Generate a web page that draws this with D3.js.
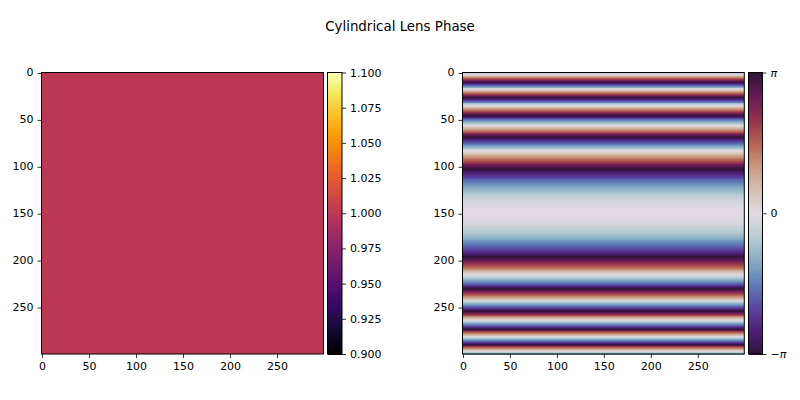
<!DOCTYPE html>
<html>
<head>
<meta charset="utf-8">
<script src="https://cdn.jsdelivr.net/npm/d3@7"></script>
<style>
html,body{margin:0;padding:0;background:#fff}
svg{display:block}
text{font-family:"DejaVu Sans",sans-serif;fill:#000}
</style>
</head>
<body>
<svg id="fig" width="800" height="400"></svg>
<script>
const titleText = "Cylindrical Lens Phase";
const amplitude = 1.0;
const ampRange = [0.9, 1.1];
const ampTicks = [0.9, 0.925, 0.95, 0.975, 1.0, 1.025, 1.05, 1.075, 1.1];
const pixelTicks = [0, 50, 100, 150, 200, 250];
const phaseTicks = [-1, 0, 1];

// Wrapped phase per image row, in units of pi. The lens is cylindrical, so columns repeat.
const phaseRowsUpper = [
 -.29,-.16,-.02,.12,.25,.39,.52,.65,.78,.91,
 -.96,-.83,-.71,-.58,-.46,-.33,-.21,-.08,.04,.16,
 .28,.40,.51,.63,.75,.86,.98,-.91,-.80,-.69,
 -.58,-.47,-.36,-.25,-.14,-.04,.07,.17,.28,.38,
 .48,.58,.68,.78,.88,.97,-.93,-.84,-.74,-.65,
 -.56,-.47,-.38,-.29,-.20,-.11,-.03,.06,.15,.23,
 .31,.39,.47,.55,.63,.71,.79,.87,.94,-.98,
 -.91,-.84,-.77,-.70,-.63,-.56,-.49,-.42,-.35,-.29,
 -.22,-.16,-.10,-.04,.02,.08,.14,.20,.26,.32,
 .37,.42,.48,.53,.58,.63,.68,.73,.78,.83,
 .87,.92,.96,-1,-.95,-.91,-.87,-.83,-.79,-.76,
 -.72,-.68,-.65,-.61,-.58,-.55,-.52,-.49,-.46,-.43,
 -.40,-.37,-.35,-.32,-.30,-.28,-.25,-.23,-.21,-.19,
 -.18,-.16,-.14,-.13,-.11,-.10,-.08,-.07,-.06,-.05,
 -.04,-.03,-.03,-.02,-.01,-.01,-.01,0,0,0
];
const phaseRowsLower = [
 0,0,0,-.01,-.01,-.01,-.02,-.03,-.03,-.04,
 -.05,-.06,-.07,-.08,-.10,-.11,-.13,-.14,-.16,-.18,
 -.19,-.21,-.23,-.25,-.28,-.30,-.32,-.35,-.37,-.40,
 -.43,-.46,-.49,-.52,-.55,-.58,-.61,-.65,-.68,-.72,
 -.76,-.79,-.83,-.87,-.91,-.95,-1,.96,.92,.87,
 .83,.78,.73,.68,.63,.58,.53,.48,.42,.37,
 .32,.26,.20,.14,.08,.02,-.04,-.10,-.16,-.22,
 -.29,-.35,-.42,-.49,-.56,-.63,-.70,-.77,-.84,-.91,
 -.98,.94,.87,.79,.71,.63,.55,.47,.39,.31,
 .23,.15,.06,-.03,-.11,-.20,-.29,-.38,-.47,-.56,
 -.65,-.74,-.84,-.93,.97,.88,.78,.68,.58,.48,
 .38,.28,.17,.07,-.04,-.14,-.25,-.36,-.47,-.58,
 -.69,-.80,-.91,.98,.86,.75,.63,.51,.40,.28,
 .16,.04,-.08,-.21,-.33,-.46,-.58,-.71,-.83,-.96,
 .91,.78,.65,.52,.39,.25,.12,-.02,-.16,-.29
];
const phaseRows = phaseRowsUpper.concat(phaseRowsLower);

// Cyclic dark-blue-light-red-dark colour ramp for phase, evenly spaced from -pi to pi.
const phaseStops = ["#2f1436","#4f1e78","#5a47a3","#5f7dba","#86adc5","#b8cdd3","#e2d9e2",
                    "#d5c0b2","#c9997f","#b5624f","#96304f","#661a55","#2f1436"];

const geom = {
  top: 72.5, bottom: 354,
  left:  {x0: 41.5,  x1: 323.5, cx0: 327.5, cx1: 342},
  right: {x0: 462.5, x1: 744.3, cx0: 748.5, cx1: 762.5}
};

const svg = d3.select("#fig");
const phaseColor = d3.scaleSequential(d3.piecewise(d3.interpolateRgb, phaseStops)).domain([-1, 1]);
// 256-level lookup: the midpoint of the range lands on level 128.
const ampColor = d3.scaleSequential(t => d3.interpolateInferno(Math.min(1, t * 256 / 255))).domain(ampRange);

svg.append("text").attr("x", 400).attr("y", 30.5).attr("text-anchor", "middle")
   .style("font-size", "13.4px").text(titleText);

function styleAxis(g) {
  g.select(".domain").remove();
  g.selectAll("line").attr("stroke", "#000").attr("stroke-width", 0.8);
  g.selectAll("text").style("font-size", "11px");
}

function drawFrame(g, x0, x1) {
  g.append("rect").attr("x", x0).attr("y", geom.top)
    .attr("width", x1 - x0).attr("height", geom.bottom - geom.top)
    .attr("fill", "none").attr("stroke", "#000").attr("stroke-width", 1);
}

function drawPixelAxes(box) {
  const x = d3.scaleLinear().domain([-0.5, 299.5]).range([box.x0, box.x1]);
  const y = d3.scaleLinear().domain([-0.5, 299.5]).range([geom.top, geom.bottom]);
  svg.append("g").attr("transform", `translate(0,${geom.bottom})`)
    .call(d3.axisBottom(x).tickValues(pixelTicks).tickSize(4).tickPadding(4)).call(styleAxis);
  svg.append("g").attr("transform", `translate(${box.x0},0)`)
    .call(d3.axisLeft(y).tickValues(pixelTicks).tickSize(4).tickPadding(4)).call(styleAxis)
    .selectAll("text").attr("dy", "0.25em");
}

function drawColorbar(box, domain, colorOf, ticks, format) {
  const y = d3.scaleLinear().domain(domain).range([geom.bottom, geom.top]);
  const val = d3.scaleLinear().domain([0, 256]).range(domain);
  const g = svg.append("g");
  g.selectAll("rect").data(d3.range(256)).join("rect")
    .attr("shape-rendering", "crispEdges")
    .attr("x", box.cx0).attr("width", box.cx1 - box.cx0)
    .attr("y", d => y(val(d + 1)))
    .attr("height", d => y(val(d)) - y(val(d + 1)) + 0.5)
    .attr("fill", d => colorOf(val(d + 0.5)));
  drawFrame(g, box.cx0, box.cx1);
  return svg.append("g").attr("transform", `translate(${box.cx1},0)`)
    .call(d3.axisRight(y).tickValues(ticks).tickFormat(format).tickSize(4).tickPadding(4))
    .call(styleAxis);
}

// Left panel: uniform amplitude.
const ampGroup = svg.append("g");
ampGroup.append("rect").datum(amplitude)
  .attr("x", geom.left.x0).attr("y", geom.top)
  .attr("width", geom.left.x1 - geom.left.x0).attr("height", geom.bottom - geom.top)
  .attr("fill", d => ampColor(d));
drawFrame(ampGroup, geom.left.x0, geom.left.x1);
drawPixelAxes(geom.left);

// Right panel: one strip per image row.
const rowY = d3.scaleLinear().domain([-0.5, 299.5]).range([geom.top, geom.bottom]);
const phaseGroup = svg.append("g");
phaseGroup.selectAll("rect").data(phaseRows).join("rect")
  .attr("shape-rendering", "crispEdges")
  .attr("x", geom.right.x0).attr("width", geom.right.x1 - geom.right.x0)
  .attr("y", (d, i) => rowY(i - 0.5))
  .attr("height", (d, i) => rowY(i + 0.5) - rowY(i - 0.5) + 0.5)
  .attr("fill", d => phaseColor(d));
drawFrame(phaseGroup, geom.right.x0, geom.right.x1);
drawPixelAxes(geom.right);

drawColorbar(geom.left, ampRange, ampColor, ampTicks, d3.format(".3f"));

// Phase colour bar labels: the pi symbol is set in italics, as in math type.
const phaseBar = drawColorbar(geom.right, [-1, 1], phaseColor, phaseTicks, () => "");
phaseBar.selectAll(".tick text").each(function (d) {
  const t = d3.select(this);
  if (d === 0) { t.text("0"); return; }
  if (d < 0) t.append("tspan").text("\u2212");
  t.append("tspan").style("font-style", "italic").text("\u03c0");
});
</script>
</body>
</html>
